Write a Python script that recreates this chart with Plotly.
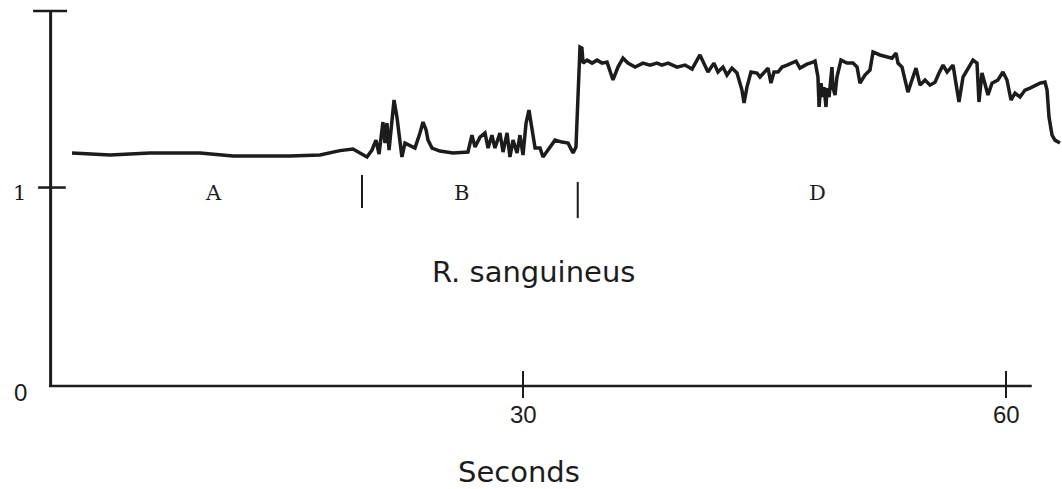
import plotly.graph_objects as go

# Recorded trace (time in seconds, relative signal)
time_s = [
    1.99, 4.35, 6.83, 9.94, 11.99, 15.53, 17.39, 18.63, 19.44, 19.75,
    20.31, 20.62, 20.87, 21.06, 21.30, 21.43, 21.55, 21.68, 21.86, 21.99,
    22.17, 22.48, 22.67, 22.98, 23.29, 23.60, 23.79, 23.98, 24.10, 24.35,
    24.84, 25.65, 26.58, 26.83, 27.02, 27.33, 27.64, 27.83, 28.07, 28.26,
    28.57, 28.76, 29.01, 29.19, 29.38, 29.63, 29.81, 30.00, 30.19, 30.37,
    30.56, 30.75, 31.06, 31.24, 31.55, 31.99, 32.42, 32.80, 33.11, 33.29,
    33.54, 33.66, 33.73, 33.98, 34.29, 34.60, 34.91, 35.22, 35.59, 35.90,
    36.21, 36.52, 36.96, 37.45, 37.89, 38.32, 38.63, 39.01, 39.57, 40.06,
    40.50, 40.99, 41.49, 41.86, 42.11, 42.42, 42.67, 42.98, 43.29, 43.60,
    43.73, 43.91, 44.16, 44.53, 44.72, 45.03, 45.22, 45.40, 45.59, 45.84,
    46.09, 46.40, 46.71, 46.96, 47.20, 47.64, 48.01, 48.14, 48.32, 48.39,
    48.51, 48.63, 48.70, 48.82, 48.88, 49.01, 49.19, 49.25, 49.38, 49.50,
    49.75, 50.12, 50.50, 50.75, 50.93, 51.24, 51.55, 51.74, 52.17, 52.61,
    52.92, 53.17, 53.29, 53.54, 53.73, 53.91, 54.16, 54.41, 54.66, 54.97,
    55.28, 55.59, 55.84, 56.09, 56.34, 56.71, 56.89, 57.08, 57.33, 57.64,
    57.95, 58.20, 58.32, 58.51, 58.76, 58.88, 59.13, 59.50, 59.81, 60.06,
    60.31, 60.56, 60.87, 61.18, 61.49, 61.80, 62.11, 62.42, 62.55, 62.67,
    62.86, 63.04, 63.35,
]
signal = [
    1.174, 1.164, 1.174, 1.174, 1.159, 1.159, 1.164, 1.186, 1.194, 1.179,
    1.154, 1.189, 1.239, 1.169, 1.330, 1.224, 1.325, 1.189, 1.340, 1.441,
    1.355, 1.154, 1.224, 1.209, 1.199, 1.275, 1.330, 1.290, 1.239, 1.199,
    1.184, 1.174, 1.179, 1.264, 1.204, 1.254, 1.275, 1.199, 1.264, 1.199,
    1.275, 1.179, 1.275, 1.154, 1.239, 1.174, 1.264, 1.164, 1.325, 1.390,
    1.305, 1.199, 1.199, 1.154, 1.189, 1.239, 1.229, 1.224, 1.174, 1.204,
    1.708, 1.703, 1.627, 1.642, 1.627, 1.642, 1.627, 1.632, 1.542, 1.607,
    1.652, 1.627, 1.607, 1.627, 1.617, 1.627, 1.617, 1.627, 1.607, 1.617,
    1.597, 1.668, 1.582, 1.627, 1.582, 1.607, 1.567, 1.602, 1.577, 1.491,
    1.426, 1.506, 1.582, 1.577, 1.557, 1.582, 1.602, 1.526, 1.582, 1.582,
    1.607, 1.617, 1.627, 1.637, 1.602, 1.622, 1.632, 1.637, 1.557, 1.406,
    1.526, 1.456, 1.506, 1.406, 1.501, 1.456, 1.607, 1.506, 1.466, 1.557,
    1.642, 1.627, 1.627, 1.607, 1.526, 1.567, 1.592, 1.683, 1.668, 1.657,
    1.652, 1.678, 1.627, 1.607, 1.542, 1.481, 1.542, 1.602, 1.516, 1.542,
    1.516, 1.531, 1.577, 1.617, 1.582, 1.617, 1.526, 1.431, 1.557, 1.602,
    1.642, 1.627, 1.431, 1.577, 1.506, 1.466, 1.526, 1.542, 1.582, 1.542,
    1.441, 1.476, 1.456, 1.491, 1.501, 1.516, 1.526, 1.531, 1.491, 1.355,
    1.264, 1.239, 1.224,
]

# Phase boundaries and phase labels
phase_marks = [20.0, 33.4]
phase_names = ["A", "B", "D"]
phase_label_x = [10.75, 26.2, 48.3]

x_ticks = [30, 60]
x_tick_labels = ["30", "60"]
y_ticks = [0, 1]
y_tick_labels = ["0", "1"]

INK = "#1c1c1c"
X_MIN, X_MAX = -2.484, 63.478
Y_MIN, Y_MAX = -0.519, 1.945
Y_AXIS_X = 0.66
Y_AXIS_TOP = 1.889
X_AXIS_END = 61.6

fig = go.Figure()
fig.add_trace(go.Scatter(
    x=time_s, y=signal, mode="lines",
    line=dict(color=INK, width=3.5), hoverinfo="skip", showlegend=False,
))

shapes = []
# y axis with cap and tick at 1
shapes.append(dict(type="line", xref="x", yref="y", x0=Y_AXIS_X, x1=Y_AXIS_X,
                   y0=0, y1=Y_AXIS_TOP, line=dict(color=INK, width=3)))
shapes.append(dict(type="line", xref="x", yref="y", x0=-0.43, x1=1.68,
                   y0=Y_AXIS_TOP, y1=Y_AXIS_TOP, line=dict(color=INK, width=2.5)))
shapes.append(dict(type="line", xref="x", yref="y", x0=-0.12, x1=1.6,
                   y0=1, y1=1, line=dict(color=INK, width=2.5)))
# x axis and its ticks
shapes.append(dict(type="line", xref="x", yref="y", x0=Y_AXIS_X - 0.1, x1=X_AXIS_END,
                   y0=0, y1=0, line=dict(color=INK, width=2.5)))
for xv in x_ticks:
    shapes.append(dict(type="line", xref="x", yref="y", x0=xv, x1=xv,
                       y0=-0.06, y1=0.075, line=dict(color=INK, width=2)))
# phase boundary markers
shapes.append(dict(type="line", xref="x", yref="y", x0=phase_marks[0], x1=phase_marks[0],
                   y0=0.897, y1=1.063, line=dict(color=INK, width=2)))
shapes.append(dict(type="line", xref="x", yref="y", x0=phase_marks[1], x1=phase_marks[1],
                   y0=0.846, y1=1.028, line=dict(color=INK, width=2)))

annotations = []
typewriter = dict(family="DejaVu Serif, Liberation Serif, serif", size=21, color=INK)
sans_small = dict(family="Liberation Sans, Arial, sans-serif", size=24, color=INK)
sans_big = dict(family="DejaVu Sans, sans-serif", size=29, color=INK)

for name, xv in zip(phase_names, phase_label_x):
    annotations.append(dict(x=xv, y=0.972, xref="x", yref="y", text=name,
                            showarrow=False, font=typewriter))
for xv, lab in zip(x_ticks, x_tick_labels):
    annotations.append(dict(x=xv, y=-0.145, xref="x", yref="y", text=lab,
                            showarrow=False, font=sans_small))
annotations.append(dict(x=-1.2, y=-0.035, xref="x", yref="y", text=y_tick_labels[0],
                        showarrow=False, font=sans_small))
annotations.append(dict(x=-1.3, y=0.975, xref="x", yref="y", text=y_tick_labels[1],
                        showarrow=False, font=typewriter))
annotations.append(dict(x=30.65, y=0.574, xref="x", yref="y", text="R. sanguineus",
                        showarrow=False, font=sans_big))
annotations.append(dict(x=29.75, y=-0.433, xref="x", yref="y", text="Seconds",
                        showarrow=False, font=sans_big))

fig.update_layout(
    width=1062, height=489,
    margin=dict(l=0, r=0, t=0, b=0, pad=0),
    paper_bgcolor="white", plot_bgcolor="white",
    xaxis=dict(range=[X_MIN, X_MAX], visible=False, fixedrange=True),
    yaxis=dict(range=[Y_MIN, Y_MAX], visible=False, fixedrange=True),
    shapes=shapes, annotations=annotations,
)

fig.write_html("out.html")
